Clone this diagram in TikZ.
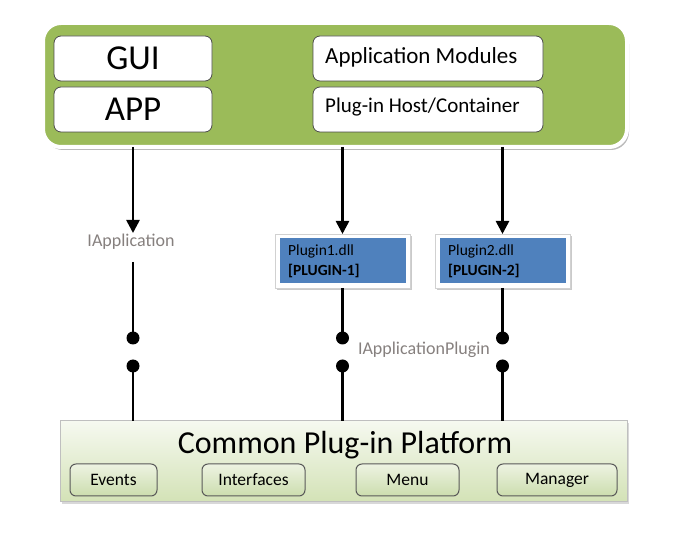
\documentclass[tikz,border=0pt]{standalone}
\usepackage{fontspec}
\setmainfont{Carlito}
\usetikzlibrary{shadows,arrows.meta}
\definecolor{olive}{HTML}{9BBB59}
\definecolor{pblue}{HTML}{4F81BD}
\definecolor{lblgray}{HTML}{86807E}
\definecolor{plattop}{HTML}{F6F9F0}
\definecolor{platbot}{HTML}{D3E2B6}
\definecolor{subtop}{HTML}{EDF3E2}
\definecolor{subbot}{HTML}{CCDDAE}
\tikzset{
  greenframe/.style={draw=white, line width=4pt, fill=olive, rounded corners=18pt,
    drop shadow={shadow xshift=2pt, shadow yshift=-3pt, fill=black!45, opacity=0.6}},
  whitebox/.style={draw=black!70, line width=0.8pt, fill=white, rounded corners=7pt,
    anchor=north west, minimum width=158pt, minimum height=45pt, inner sep=0pt, outer sep=0pt},
  modbox/.style={draw=black!70, line width=0.8pt, fill=white, rounded corners=7pt,
    anchor=north west, minimum width=230pt, minimum height=45pt, inner sep=0pt, outer sep=0pt},
  plugouter/.style={draw=black!18, line width=0.6pt, fill=white, anchor=north west,
    minimum width=135pt, minimum height=54pt, inner sep=0pt, outer sep=0pt,
    drop shadow={shadow xshift=2pt, shadow yshift=-2pt, fill=black!35, opacity=0.6}},
  pluginner/.style={fill=pblue, minimum width=126pt, minimum height=45pt, inner sep=0pt, outer sep=0pt},
  conn/.style={line width=2.6pt, draw=black},
  arr/.style={conn, -{Triangle[width=13pt,length=13pt]}},
  dot/.style={circle, fill=black, minimum size=13pt, inner sep=0pt},
  lbl/.style={text=lblgray, font=\fontsize{18pt}{20pt}\selectfont, inner sep=0pt},
  subbox/.style={draw=black!65, line width=1pt, rounded corners=6pt, top color=subtop,
    bottom color=subbot, minimum height=32pt, inner sep=0pt, outer sep=0pt, anchor=north west,
    font=\fontsize{17.5pt}{19pt}\selectfont},
}
\begin{document}
\begin{tikzpicture}[x=1pt,y=-1pt]
\useasboundingbox (0,0) rectangle (678,534);
% top green frame
\node[greenframe, anchor=north west, outer sep=0pt, minimum width=584pt, minimum height=124pt] (top) at (43,23) {};
\node[whitebox, font=\fontsize{35pt}{37pt}\selectfont] (gui) at (54,36) {GUI};
\node[whitebox, font=\fontsize{35pt}{37pt}\selectfont] (app) at (54,87) {APP};
\node[modbox] (mods) at (313,36) {};
\node[anchor=west, font=\fontsize{23pt}{25pt}\selectfont, inner sep=0pt] (modst) at (325,57) {Application Modules};
\node[modbox] (host) at (313,87) {};
\node[anchor=west, font=\fontsize{21pt}{23pt}\selectfont, inner sep=0pt] (hostt) at (325,107) {Plug-in Host/Container};
% plugin boxes
\node[plugouter] (p1) at (275,234) {};
\node[pluginner] (p1b) at (p1.center) {};
\node[anchor=north west, align=left, inner sep=0pt, font=\fontsize{15.5pt}{20pt}\selectfont] (p1t) at (288,245)
  {Plugin1.dll\\\textbf{[PLUGIN-1]}};
\node[plugouter] (p2) at (435,234) {};
\node[pluginner] (p2b) at (p2.center) {};
\node[anchor=north west, align=left, inner sep=0pt, font=\fontsize{15.5pt}{20pt}\selectfont] (p2t) at (448,245)
  {Plugin2.dll\\\textbf{[PLUGIN-2]}};
% bottom platform
\node[anchor=north west, draw=black!25, line width=1pt, top color=plattop, bottom color=platbot,
  minimum width=567pt, minimum height=81pt, inner sep=0pt, outer sep=0pt,
  drop shadow={shadow xshift=2pt, shadow yshift=-2pt, fill=black!30, opacity=0.5}] (plat) at (60,421) {};
\node[font=\fontsize{32pt}{34pt}\selectfont, inner sep=0pt] (platt) at (345,445) {Common Plug-in Platform};
\node[subbox, minimum width=87pt] (ev) at (70,464) {Events};
\node[subbox, minimum width=103pt] (if) at (202,464) {Interfaces};
\node[subbox, minimum width=103pt] (mn) at (356,464) {Menu};
\node[subbox, minimum width=120pt] (mg) at (497,464) {Manager};
% labels
\node[lbl] (ia) at (131,242) {IApplication};
\node[lbl] (iap) at (424,350) {IApplicationPlugin};
% connectors
\coordinate (a1end) at (133,233);
\coordinate (a1start) at (133,262);
\draw[arr] (gui.south |- top.south) -- (a1end);
\draw[arr] (p1.north |- top.south) -- (p1.north);
\draw[arr] (p2.north |- top.south) -- (p2.north);
\node[dot] (d1a) at (133,338) {};
\node[dot] (d1b) at (133,366) {};
\node[dot] (d2a) at (p1.south |- d1a) {};
\node[dot] (d2b) at (p1.south |- d1b) {};
\node[dot] (d3a) at (p2.south |- d1a) {};
\node[dot] (d3b) at (p2.south |- d1b) {};
\draw[conn] (a1start) -- (d1a.center);
\draw[conn] (p1.south) -- (d2a.center);
\draw[conn] (p2.south) -- (d3a.center);
\draw[conn] (d1b.center) -- (d1b |- plat.north);
\draw[conn] (d2b.center) -- (d2b |- plat.north);
\draw[conn] (d3b.center) -- (d3b |- plat.north);
\end{tikzpicture}
\end{document}
